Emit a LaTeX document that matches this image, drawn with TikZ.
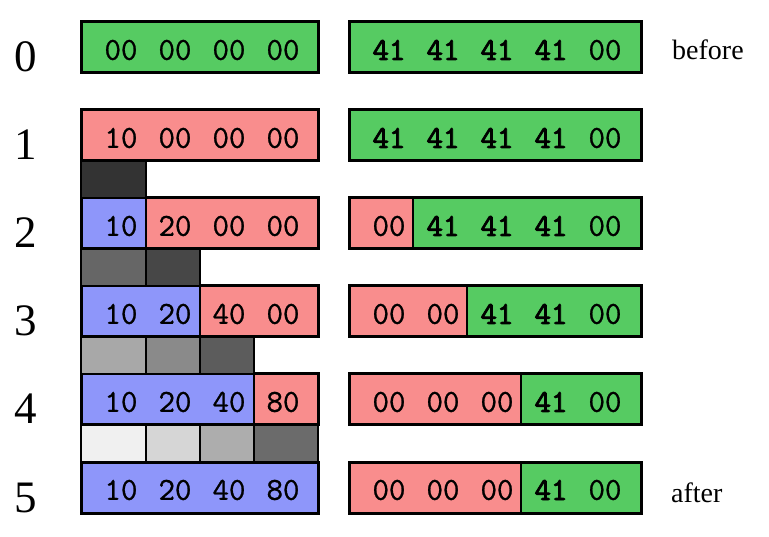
\documentclass[tikz,border=0pt]{standalone}
\usepackage{fontspec}
\setmainfont{Liberation Serif}
\newfontfamily\hexrm{Latin Modern Mono}[FakeBold=0.9]
\newfontfamily\hexbf{Latin Modern Mono}[FakeBold=2.6]
\usepackage{xcolor}

\definecolor{grn}{RGB}{86,203,98}
\definecolor{pnk}{RGB}{249,141,141}
\definecolor{blu}{RGB}{142,150,250}

\tikzset{
  box/.style={draw=black, line width=3pt},
  sep/.style={draw=black, line width=2pt},
  blk/.style={draw=black, line width=2pt},
  hex/.style={font=\hexrm\fontsize{32}{32}\selectfont, inner sep=0pt},
  hexb/.style={hex, font=\hexbf\fontsize{32}{32}\selectfont},
  rownum/.style={font=\fontsize{45}{45}\selectfont, anchor=base, inner sep=0pt},
  note/.style={font=\fontsize{28}{28}\selectfont, anchor=base west, inner sep=0pt}
}

\begin{document}
\begin{tikzpicture}[x=1pt,y=-1pt]
\useasboundingbox (0,0) rectangle (769,537);

% row 0
\fill[grn] (81,22) rectangle (318,73);
\draw[box] (81,22) rectangle (318,73);
\fill[grn] (349,22) rectangle (641,73);
\draw[box] (349,22) rectangle (641,73);

% row 1
\fill[pnk] (81,110) rectangle (318,161);
\draw[box] (81,110) rectangle (318,161);
\fill[grn] (349,110) rectangle (641,161);
\draw[box] (349,110) rectangle (641,161);

% row 2
\fill[blu] (81,198) rectangle (146,249);
\fill[pnk] (146,198) rectangle (318,249);
\draw[sep] (146,198) -- (146,249);
\draw[box] (81,198) rectangle (318,249);
\fill[pnk] (349,198) rectangle (413,249);
\fill[grn] (413,198) rectangle (641,249);
\draw[sep] (413,198) -- (413,249);
\draw[box] (349,198) rectangle (641,249);

% row 3
\fill[blu] (81,286) rectangle (200,337);
\fill[pnk] (200,286) rectangle (318,337);
\draw[sep] (200,286) -- (200,337);
\draw[box] (81,286) rectangle (318,337);
\fill[pnk] (349,286) rectangle (467,337);
\fill[grn] (467,286) rectangle (641,337);
\draw[sep] (467,286) -- (467,337);
\draw[box] (349,286) rectangle (641,337);

% row 4
\fill[blu] (81,374) rectangle (254,425);
\fill[pnk] (254,374) rectangle (318,425);
\draw[sep] (254,374) -- (254,425);
\draw[box] (81,374) rectangle (318,425);
\fill[pnk] (349,374) rectangle (521,425);
\fill[grn] (521,374) rectangle (641,425);
\draw[sep] (521,374) -- (521,425);
\draw[box] (349,374) rectangle (641,425);

% row 5
\fill[blu] (81,462) rectangle (318,513);
\draw[box] (81,462) rectangle (318,513);
\fill[pnk] (349,462) rectangle (521,513);
\fill[grn] (521,462) rectangle (641,513);
\draw[sep] (521,462) -- (521,513);
\draw[box] (349,462) rectangle (641,513);

% grey blocks
\draw[blk,fill=black!80] (81,161) rectangle (146,198);

\draw[blk,fill=black!60] (81,249) rectangle (146,286);
\draw[blk,fill=black!72] (146,249) rectangle (200,286);

\draw[blk,fill=black!34] (81,337) rectangle (146,374);
\draw[blk,fill=black!46] (146,337) rectangle (200,374);
\draw[blk,fill=black!64] (200,337) rectangle (254,374);

\draw[blk,fill=black!6]  (81,425) rectangle (146,462);
\draw[blk,fill=black!16] (146,425) rectangle (200,462);
\draw[blk,fill=black!32] (200,425) rectangle (254,462);
\draw[blk,fill=black!58] (254,425) rectangle (318,462);

% row numbers
\node[rownum] (n0) at (26,72) {0};
\node[rownum] (n1) at (26,160) {1};
\node[rownum] (n2) at (26,248) {2};
\node[rownum] (n3) at (26,336) {3};
\node[rownum] (n4) at (26,424) {4};
\node[rownum] (n5) at (26,512) {5};

% left values
\node[hex] (l0a) at (121,50) {00};
\node[hex] (l0b) at (175,50) {00};
\node[hex] (l0c) at (229,50) {00};
\node[hex] (l0d) at (283,50) {00};

\node[hex] (l1a) at (121,138) {10};
\node[hex] (l1b) at (175,138) {00};
\node[hex] (l1c) at (229,138) {00};
\node[hex] (l1d) at (283,138) {00};

\node[hex] (l2a) at (121,226) {10};
\node[hex] (l2b) at (175,226) {20};
\node[hex] (l2c) at (229,226) {00};
\node[hex] (l2d) at (283,226) {00};

\node[hex] (l3a) at (121,314) {10};
\node[hex] (l3b) at (175,314) {20};
\node[hex] (l3c) at (229,314) {40};
\node[hex] (l3d) at (283,314) {00};

\node[hex] (l4a) at (121,402) {10};
\node[hex] (l4b) at (175,402) {20};
\node[hex] (l4c) at (229,402) {40};
\node[hex] (l4d) at (283,402) {80};

\node[hex] (l5a) at (121,490) {10};
\node[hex] (l5b) at (175,490) {20};
\node[hex] (l5c) at (229,490) {40};
\node[hex] (l5d) at (283,490) {80};

% right values
\node[hexb] (r0a) at (389,50) {41};
\node[hexb] (r0b) at (443,50) {41};
\node[hexb] (r0c) at (497,50) {41};
\node[hexb] (r0d) at (551,50) {41};
\node[hex]  (r0e) at (605,50) {00};

\node[hexb] (r1a) at (389,138) {41};
\node[hexb] (r1b) at (443,138) {41};
\node[hexb] (r1c) at (497,138) {41};
\node[hexb] (r1d) at (551,138) {41};
\node[hex]  (r1e) at (605,138) {00};

\node[hex]  (r2a) at (389,226) {00};
\node[hexb] (r2b) at (443,226) {41};
\node[hexb] (r2c) at (497,226) {41};
\node[hexb] (r2d) at (551,226) {41};
\node[hex]  (r2e) at (605,226) {00};

\node[hex]  (r3a) at (389,314) {00};
\node[hex]  (r3b) at (443,314) {00};
\node[hexb] (r3c) at (497,314) {41};
\node[hexb] (r3d) at (551,314) {41};
\node[hex]  (r3e) at (605,314) {00};

\node[hex]  (r4a) at (389,402) {00};
\node[hex]  (r4b) at (443,402) {00};
\node[hex]  (r4c) at (497,402) {00};
\node[hexb] (r4d) at (551,402) {41};
\node[hex]  (r4e) at (605,402) {00};

\node[hex]  (r5a) at (389,490) {00};
\node[hex]  (r5b) at (443,490) {00};
\node[hex]  (r5c) at (497,490) {00};
\node[hexb] (r5d) at (551,490) {41};
\node[hex]  (r5e) at (605,490) {00};

\node[note] (before) at (672,60) {before};
\node[note] (after) at (671,502) {after};

\end{tikzpicture}
\end{document}
